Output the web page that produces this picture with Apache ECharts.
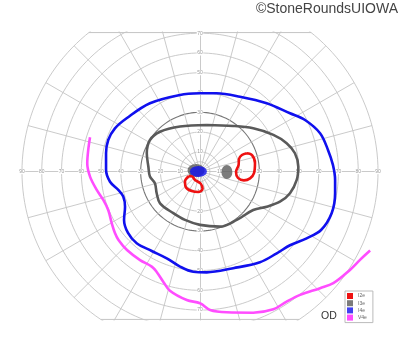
<!DOCTYPE html>
<html><head><meta charset="utf-8">
<script src="https://cdn.jsdelivr.net/npm/echarts@6/dist/echarts.min.js"></script>
<style>html,body{margin:0;padding:0;background:#fff}#c{width:400px;height:352px}</style>
</head><body><div id="c"></div>
<script>
// Goldmann visual field, values in degrees: [horizontal, vertical]
const isopterNames = ['I2e', 'I3e', 'I4e', 'V4e'];
const isopterColors = ['#ee1111', '#5a5a5a', '#1010ee', '#ff4dff'];

const I2eTemporal = [[23.6,9.3],[26.3,8.4],[27.8,4.4],[27.3,-0.7],[25.3,-3.4],[22.2,-4.4],[19.2,-3.2],[18.2,-0.2],[19.5,3.4],[19.7,6.4],[21.2,8.4],[23.6,9.3]];
const I2eCentral = [[-5.6,-2.2],[-7.6,-5.0],[-7.1,-8.0],[-4.2,-9.8],[-0.9,-10.3],[1.3,-8.7],[0.3,-6.0],[-2.5,-4.2],[-4.0,-2.4],[-5.6,-2.2]];
const I3eOuter = [[3.4,23.6],[16.8,23.1],[26.9,21.9],[37.1,18.6],[43.8,14.4],[48.0,9.3],[49.7,2.5],[48.9,-4.2],[45.5,-10.9],[40.4,-15.2],[33.7,-17.7],[26.9,-19.4],[18.6,-24.4],[10.1,-27.8],[0,-26.9],[-7.6,-24.4],[-13.5,-21.0],[-20.2,-16.0],[-21.9,-10.9],[-22.8,-5.9],[-25.3,-2.5],[-26.1,2.5],[-26.9,9.3],[-25.3,16.0],[-20.2,20.2],[-10.1,22.8],[3.4,23.6]];
const I3eCentralSpot = [[-2.0, 0.6]];
const I3eBlindSpot = [[13.6, -0.2]];
const I4eOuter = [[0,39.6],[8.4,39.6],[20.2,37.9],[33.7,34.6],[45.5,29.5],[53.1,26.1],[60.7,19.4],[64.7,11.0],[67.2,3.4],[68.3,-4.2],[68.3,-10.8],[66.6,-20.9],[61.2,-29.5],[53.9,-33.7],[45.5,-37.2],[38.8,-41.3],[30.3,-45.8],[16.8,-48.8],[3.4,-50.9],[-3.4,-50.6],[-10.1,-48.0],[-16.8,-43.8],[-24.4,-40.1],[-32.0,-36.2],[-36.4,-31.0],[-38.4,-24.4],[-37.9,-17.7],[-38.8,-12.6],[-41.2,-9.3],[-45.5,-5.1],[-47.5,0.9],[-47.5,9.3],[-46.4,16.0],[-43.0,21.9],[-37.1,27.0],[-25.3,34.6],[-10.1,38.8],[0,39.6]];
const I4eCentralSpot = [[-0.8, 0.1]];
const V4eArc = [[-55.6,17.4],[-56.5,11.0],[-57.0,4.2],[-55.6,-2.5],[-52.2,-9.2],[-48.9,-14.3],[-46.4,-19.4],[-44.6,-26.1],[-43.0,-31.0],[-41.2,-34.5],[-36.9,-39.6],[-30.3,-44.7],[-24.4,-48.0],[-21.9,-50.7],[-18.6,-55.6],[-15.2,-60.2],[-6.7,-64.9],[0,-66.5],[5.1,-69.9],[13.5,-71.1],[26.9,-71.3],[37.1,-69.6],[43.8,-65.7],[50.6,-62.3],[60.7,-58.9],[67.4,-56.4],[75.8,-49.7],[80.9,-44.6],[86.0,-39.9]];

const ringRadii = [5,10,20,30,40,50,60,70,80,90];
const meridianAngles = [15,30,45,60,75,105,120,135,150,165];
const horizontalTicks = [-90,-80,-70,-60,-50,-40,-30,-20,-10,10,20,30,40,50,60,70,80,90];
const verticalTicks = [-70,-60,-50,-40,-30,-20,-10,10,20,30,40,50,60,70];
const fieldX = [-91, 91];
const fieldY = [-75, 70.6];

const gridBox = {left:20, top:32, width:360, height:288};
// shift the axes from the grid edge to the fixation point (value 0)
const xAxisOffset = -gridBox.height * (0 - fieldY[0]) / (fieldY[1] - fieldY[0]);
const yAxisOffset = -gridBox.width * (0 - fieldX[0]) / (fieldX[1] - fieldX[0]);

const gridColor = '#c4c4c4';
const series = [];
const rad = Math.PI / 180;
ringRadii.forEach(r => {
  const pts = [];
  for (let a = 0; a <= 360; a += 2) pts.push([r * Math.cos(a * rad), r * Math.sin(a * rad)]);
  series.push({type:'line', data:pts, showSymbol:false, silent:true, z:1, clip:true,
    lineStyle:{color: r === 30 ? '#777' : gridColor, width: r === 30 ? 1.1 : 0.9}});
});
meridianAngles.forEach(a => {
  const c = Math.cos(a * rad), s = Math.sin(a * rad);
  series.push({type:'line', data:[[-90*c,-90*s],[90*c,90*s]], showSymbol:false, silent:true, z:1, clip:true,
    lineStyle:{color:gridColor, width:0.9}});
});
[fieldY[1] - 0.3, fieldY[0] + 0.3].forEach(y => {
  const h = Math.sqrt(90*90 - y*y);
  series.push({type:'line', data:[[-h,y],[h,y]], showSymbol:false, silent:true, z:1, clip:true,
    lineStyle:{color:gridColor, width:1}});
});

function iso(name, data, idx) {
  return {type:'line', name, data, smooth:0.35, showSymbol:false, z:4, clip:true,
    itemStyle:{color:isopterColors[idx]}, lineStyle:{color:isopterColors[idx], width:2.6}};
}
function spot(name, data, idx, size) {
  return {type:'scatter', name, data, symbol:'circle', symbolSize:size, z:3,
    itemStyle:{color:isopterColors[idx]}};
}
series.push(spot('I3e', I3eCentralSpot, 1, [17, 13]));
series.push(spot('I3e', I3eBlindSpot, 1, [11, 14]));
series.push(spot('I4e', I4eCentralSpot, 2, [17, 11]));
series.push(iso('I3e', I3eOuter, 1));
series.push(iso('I4e', I4eOuter, 2));
series.push(iso('V4e', V4eArc, 3));
series.push(iso('I2e', I2eTemporal, 0));
series.push(iso('I2e', I2eCentral, 0));

const chart = echarts.init(document.getElementById('c'), null, {renderer:'canvas'});
const lblStyle = {fontSize:5, color:'#999', backgroundColor:'#fff', padding:[0,0.5], fontFamily:'Liberation Sans'};
chart.setOption({
  animation:false,
  backgroundColor:'#fff',
  title:[
    {text:'©StoneRoundsUIOWA', right:2, top:2, padding:0, textStyle:{fontSize:14, fontWeight:'normal', color:'#444', fontFamily:'Liberation Sans'}},
    {text:'OD', left:321, top:311, padding:0, textStyle:{fontSize:10.5, fontWeight:'normal', color:'#333', fontFamily:'Liberation Sans'}}
  ],
  legend:{data:isopterNames, orient:'vertical', left:345, top:291, icon:'rect', itemWidth:6, itemHeight:6, itemGap:1.2,
    padding:[2,6,2,2], borderColor:'#bbb', borderWidth:1, backgroundColor:'#fff',
    textStyle:{fontSize:5, lineHeight:6, color:'#666', fontFamily:'Liberation Sans'}},
  grid:gridBox,
  xAxis:{type:'value', min:fieldX[0], max:fieldX[1], z:2, position:'bottom', offset:xAxisOffset,
    axisLine:{show:true, onZero:false, lineStyle:{color:gridColor, width:0.9}}, axisTick:{show:false}, splitLine:{show:false},
    axisLabel:Object.assign({customValues:horizontalTicks, margin:0, verticalAlign:'middle', formatter:v => Math.abs(v)}, lblStyle)},
  yAxis:{type:'value', min:fieldY[0], max:fieldY[1], z:2, position:'left', offset:yAxisOffset,
    axisLine:{show:true, onZero:false, lineStyle:{color:gridColor, width:0.9}}, axisTick:{show:false}, splitLine:{show:false},
    axisLabel:Object.assign({customValues:verticalTicks, margin:0, align:'center', formatter:v => Math.abs(v)}, lblStyle)},
  series
});
</script></body></html>
